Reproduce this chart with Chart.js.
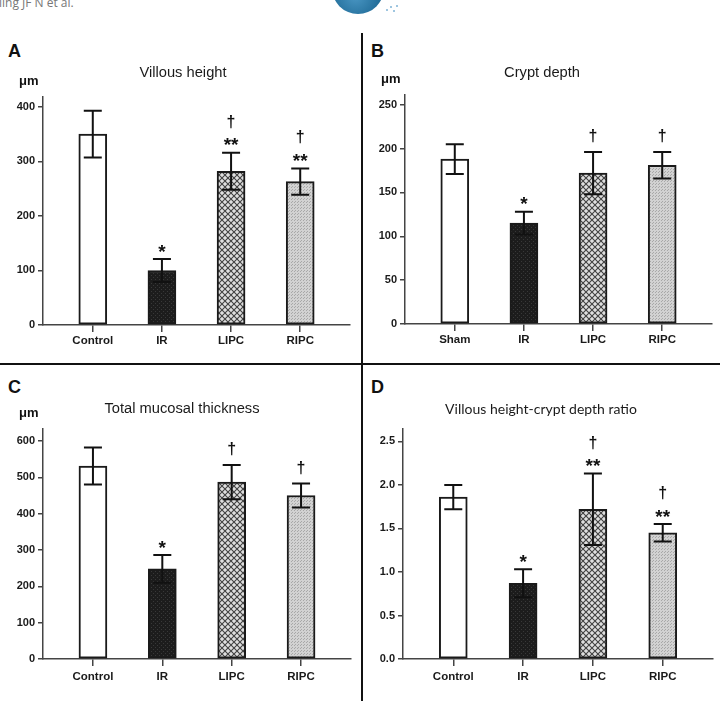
<!DOCTYPE html>
<html>
<head>
<meta charset="utf-8">
<script src="https://cdn.jsdelivr.net/npm/chart.js@4.4.1/dist/chart.umd.min.js"></script>
<style>
  body { margin: 0; background: #fff; }
  #page { position: relative; width: 720px; height: 701px; overflow: hidden; background: #fff; font-family: "Liberation Sans", Arial, sans-serif; }
  canvas { position: absolute; }
  .letter { position: absolute; font-weight: bold; font-size: 18px; line-height: 18px; color: #111; }
  .rule { position: absolute; background: #111; }
  #running { position: absolute; left: -1px; top: -3px; font: 12px/12px "Open Sans", sans-serif; color: #777; }
  #logo { position: absolute; left: 332px; top: -38px; width: 52px; height: 52px; border-radius: 50%;
          background: radial-gradient(circle at 45% 65%, #4a97c4, #1f6a96 60%, #165a82); }
  .dot { position: absolute; width: 2px; height: 2px; border-radius: 50%; background: #7fb3d6; }
</style>
</head>
<body>
<div id="page">
  <div id="running">ling JF N et al.</div>
  <div id="logo"></div>
  <div class="dot" style="left:386px;top:9px"></div>
  <div class="dot" style="left:390px;top:6px"></div>
  <div class="dot" style="left:393px;top:10px"></div>
  <div class="dot" style="left:396px;top:5px"></div>

  <div class="rule" style="left:361px;top:33px;width:2px;height:668px"></div>
  <div class="rule" style="left:0;top:363px;width:720px;height:2px"></div>

  <div class="letter" style="left:8px;top:42px">A</div>
  <div class="letter" style="left:371px;top:42px">B</div>
  <div class="letter" style="left:8px;top:378px">C</div>
  <div class="letter" style="left:371px;top:378px">D</div>

  <canvas id="chartA" width="360" height="322" style="left:0;top:40px"></canvas>
  <canvas id="chartB" width="356" height="322" style="left:364px;top:40px"></canvas>
  <canvas id="chartC" width="360" height="329" style="left:0;top:372px"></canvas>
  <canvas id="chartD" width="356" height="329" style="left:364px;top:372px"></canvas>
</div>

<script>
// groups
const groupsA = ['Control', 'IR', 'LIPC', 'RIPC'];
const groupsB = ['Sham', 'IR', 'LIPC', 'RIPC'];

// A: villous height (um)
const villousMean = [350, 100, 282, 263];
const villousSD = [43, 21, 34, 24];
// B: crypt depth (um)
const cryptMean = [188, 115, 172, 181];
const cryptSD = [17, 13, 24, 15];
// C: total mucosal thickness (um)
const mucosaMean = [531, 248, 487, 450];
const mucosaSD = [51, 38, 47, 33];
// D: villous height / crypt depth
const ratioMean = [1.86, 0.87, 1.72, 1.45];
const ratioSD = [0.14, 0.16, 0.41, 0.10];

// y tick labels
const ticksA = [0, 100, 200, 300, 400];
const ticksB = [0, 50, 100, 150, 200, 250];
const ticksC = [0, 100, 200, 300, 400, 500, 600];
const ticksD = [0, 0.5, 1.0, 1.5, 2.0, 2.5];

// significance marks, from bottom to top
const marksA = [[], ['*'], ['**', '†'], ['**', '†']];
const marksB = [[], ['*'], ['†'], ['†']];
const marksC = [[], ['*'], ['†'], ['†']];
const marksD = [[], ['*'], ['**', '†'], ['**', '†']];

function makePattern(size, bg, draw) {
  const c = document.createElement('canvas');
  c.width = c.height = size;
  const g = c.getContext('2d');
  g.fillStyle = bg;
  g.fillRect(0, 0, size, size);
  draw(g);
  return g.createPattern(c, 'repeat');
}

const darkFill = makePattern(4, '#1c1c1c', g => {
  g.fillStyle = '#383838';
  g.fillRect(1, 1, 1, 1);
  g.fillRect(3, 3, 1, 1);
});
const hatchFill = makePattern(6, '#dedede', g => {
  g.strokeStyle = '#404040';
  g.lineWidth = 1.1;
  g.beginPath();
  g.moveTo(0, 0); g.lineTo(6, 6);
  g.moveTo(6, 0); g.lineTo(0, 6);
  g.stroke();
});
const greyFill = makePattern(3, '#d2d2d2', g => {
  g.fillStyle = '#a8a8a8';
  g.fillRect(0, 0, 1, 1);
  g.fillRect(1, 2, 1, 1);
});
const fills = ['#ffffff', darkFill, hatchFill, greyFill];

const errorBars = {
  id: 'errorBars',
  afterDatasetsDraw(chart, args, opts) {
    const { ctx, chartArea } = chart;
    const x = chart.scales.x, y = chart.scales.y;
    ctx.save();
    ctx.strokeStyle = '#111';
    ctx.lineWidth = 2;
    opts.means.forEach((m, i) => {
      const px = x.getPixelForValue(i);
      const top = y.getPixelForValue(m + opts.sds[i]);
      const bot = y.getPixelForValue(m - opts.sds[i]);
      ctx.beginPath();
      ctx.moveTo(px, top); ctx.lineTo(px, bot);
      ctx.moveTo(px - 9, top); ctx.lineTo(px + 9, top);
      ctx.moveTo(px - 9, bot); ctx.lineTo(px + 9, bot);
      ctx.stroke();

      let off = 0;
      opts.marks[i].forEach((s, k) => {
        const star = s.indexOf('*') >= 0;
        off = k === 0 ? (star ? 11 : 16) : off + 20;
        ctx.font = star ? 'bold 19px "Liberation Sans"' : 'bold 16px "Liberation Sans"';
        ctx.fillStyle = '#111';
        ctx.textAlign = 'center';
        ctx.textBaseline = 'alphabetic';
        const mt = ctx.measureText(s);
        const cy = top - off;
        ctx.fillText(s, px, cy + (mt.actualBoundingBoxAscent - mt.actualBoundingBoxDescent) / 2);
      });
    });
    if (opts.unit) {
      ctx.font = 'bold 13px "Liberation Sans"';
      ctx.fillStyle = '#111';
      ctx.textAlign = 'left';
      ctx.textBaseline = 'middle';
      ctx.fillText(opts.unit, chartArea.left - 24, chartArea.top - 16);
    }
    ctx.restore();
  }
};

function makeChart(id, c) {
  const axisLine = { display: true, color: '#444', width: 1.5 };
  return new Chart(document.getElementById(id), {
    type: 'bar',
    data: {
      datasets: [{
        data: c.means.map((v, i) => ({ x: i, y: v })),
        backgroundColor: fills,
        borderColor: '#1a1a1a',
        borderWidth: 2,
        borderSkipped: false,
        barThickness: 28
      }]
    },
    options: {
      responsive: false,
      animation: false,
      events: [],
      layout: { padding: c.pad },
      plugins: {
        legend: { display: false },
        tooltip: { enabled: false },
        title: {
          display: true,
          text: c.title,
          color: '#1a1a1a',
          font: c.titleFont,
          padding: { top: 0, bottom: c.titleGap }
        },
        errorBars: { means: c.means, sds: c.sds, marks: c.marks, unit: c.unit }
      },
      scales: {
        x: {
          type: 'linear',
          offset: false,
          min: -0.72,
          max: 3.72,
          afterFit: s => { s.height = c.xH; },
          afterBuildTicks: s => { s.ticks = c.groups.map((g, i) => ({ value: i })); },
          ticks: {
            stepSize: 1,
            autoSkip: false,
            maxRotation: 0,
            padding: c.xPad,
            color: '#1a1a1a',
            font: { family: '"Liberation Sans"', size: 11.5, weight: 'bold' },
            callback: v => c.groups[v]
          },
          grid: { display: true, offset: false, drawOnChartArea: false, drawTicks: true, tickLength: 7, color: '#444', lineWidth: 1.5 },
          border: axisLine
        },
        y: {
          min: 0,
          max: c.max,
          afterFit: s => { s.width = c.yW; },
          afterBuildTicks: s => { s.ticks = c.ticks.map(v => ({ value: v })); },
          ticks: {
            padding: 3,
            color: '#1a1a1a',
            font: { family: '"Liberation Sans"', size: 11, weight: 'bold' },
            callback: v => v.toFixed(c.dec)
          },
          grid: { display: true, drawOnChartArea: false, drawTicks: true, tickLength: 5, color: '#444', lineWidth: 1.5 },
          border: axisLine
        }
      }
    },
    plugins: [errorBars]
  });
}

const titleFont = { family: '"Liberation Sans"', size: 14.7, weight: 'normal', lineHeight: 1.2 };

makeChart('chartA', {
  groups: groupsA, means: villousMean, sds: villousSD, marks: marksA, ticks: ticksA, max: 418, dec: 0,
  title: 'Villous height', titleFont: titleFont, titleGap: 15.2, unit: 'μm',
  pad: { top: 24.2, left: 16, right: 10, bottom: 0 }, yW: 27, xH: 37, xPad: 2
});
makeChart('chartB', {
  groups: groupsB, means: cryptMean, sds: cryptSD, marks: marksB, ticks: ticksB, max: 261, dec: 0,
  title: 'Crypt depth', titleFont: titleFont, titleGap: 13.2, unit: 'μm',
  pad: { top: 24.2, left: 8, right: 8, bottom: 0 }, yW: 33, xH: 38, xPad: 2
});
makeChart('chartC', {
  groups: groupsA, means: mucosaMean, sds: mucosaSD, marks: marksC, ticks: ticksC, max: 633, dec: 0,
  title: 'Total mucosal thickness', titleFont: titleFont, titleGap: 11.2, unit: 'μm',
  pad: { top: 28.2, left: 13, right: 9, bottom: 0 }, yW: 30, xH: 42, xPad: 4
});
makeChart('chartD', {
  groups: groupsA, means: ratioMean, sds: ratioSD, marks: marksD, ticks: ticksD, max: 2.64, dec: 1,
  title: 'Villous height-crypt depth ratio', titleFont: { family: 'Lato', size: 14, weight: 'normal', lineHeight: 1.2 },
  titleGap: 11.8, unit: '',
  pad: { top: 28.6, left: 5, right: 7, bottom: 0 }, yW: 34, xH: 42, xPad: 4
});
</script>
</body>
</html>
